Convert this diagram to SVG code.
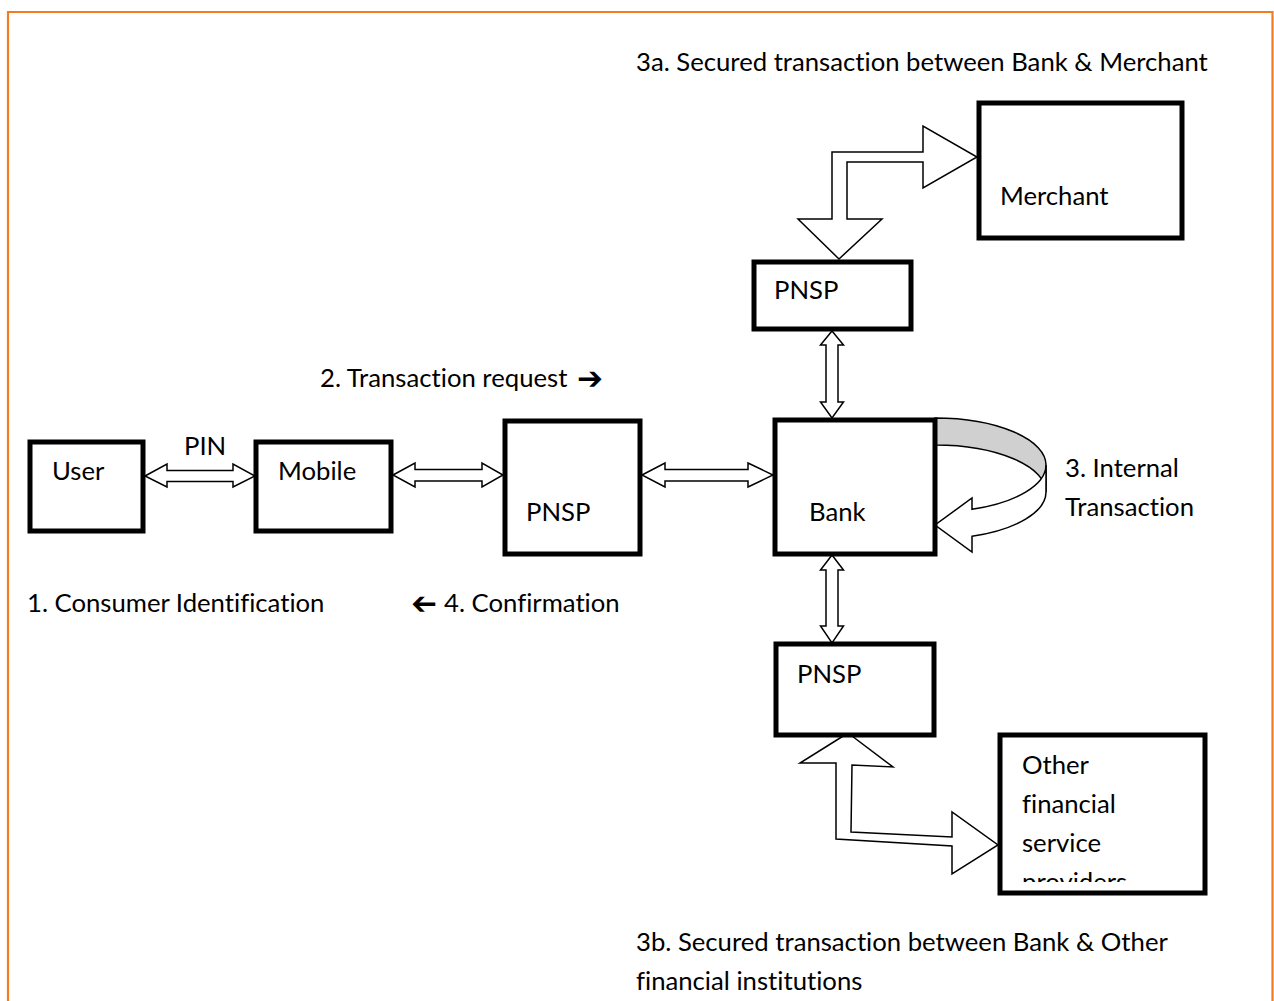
<svg xmlns="http://www.w3.org/2000/svg" width="1274" height="1001" viewBox="0 0 1274 1001">
  <style>
    .box { fill: #ffffff; stroke: #000000; stroke-width: 5; }
    .conn { fill: #ffffff; stroke: #000000; stroke-width: 1.5; stroke-linejoin: miter; }
    .lbl { font-family: Lato, "Open Sans", "Liberation Sans", sans-serif; font-size: 25.7px; fill: #000000; font-variant-ligatures: none; font-feature-settings: "liga" 0, "clig" 0; }
    .sym { font-family: "DejaVu Sans", sans-serif; font-size: 31px; font-weight: bold; fill: #000000; }
  </style>
  <defs>
    <clipPath id="clip-other">
      <rect x="1003" y="738" width="199" height="144"/>
    </clipPath>
  </defs>

  <rect width="1274" height="1001" fill="#ffffff"/>
  <!-- page frame -->
  <path d="M8,1001 V12 H1272.5 V1001" fill="none" stroke="#F47B20" stroke-width="2.2"/>

  <!-- connectors -->
  <g id="connectors">
    <!-- User <-> Mobile -->
    <polygon class="conn" points="145,476 167,464 167,470.5 233,470.5 233,464 255,476 233,487 233,481.5 167,481.5 167,487"/>
    <!-- Mobile <-> PNSP -->
    <polygon class="conn" points="393,475 415,463 415,469.5 482,469.5 482,463 503,475 482,487 482,481 415,481 415,487"/>
    <!-- PNSP <-> Bank -->
    <polygon class="conn" points="642,475 665,463 665,469.5 748,469.5 748,463 773,475 748,487 748,481 665,481 665,487"/>
    <!-- PNSP (top) <-> Bank -->
    <polygon class="conn" points="832,331 843.5,345 838,345 838,402 843.5,402 832,418 820.5,402 826,402 826,345 820.5,345"/>
    <!-- Bank <-> PNSP (bottom) -->
    <polygon class="conn" points="832,555 843.5,570 838,570 838,626 843.5,626 832,643 820.5,626 826,626 826,570 820.5,570"/>
    <!-- PNSP (top) <-> Merchant -->
    <polygon class="conn" points="839,259 882,219 847,219 847,162 923,162 923,188 977,157 923,126 923,152 832,152 832,219 798,219"/>
    <!-- PNSP (bottom) <-> Other financial service providers -->
    <polygon class="conn" points="848,733 893,767 852,765 851,832 952,837 952,812 998,845 952,874 952,846 836,839 836,763 800,763"/>
    <!-- Bank internal transaction loop: two equal ellipses offset by the band width;
         shaded back face first, then the front face with its head on top -->
    <path d="M935,418 A111,47 0 0 1 1046,465 L1046,492 A111,47 0 0 0 935,445 Z" fill="#d0d0d0" stroke="#000000" stroke-width="1.5"/>
    <path class="conn" d="M1046,465 A111,47 0 0 1 972,509.3 L972,498 L935,525 L972,552 L972,536.3 A111,47 0 0 0 1046,492 Z"/>
  </g>

  <!-- nodes -->
  <g id="node-user">
    <rect class="box" x="30" y="442" width="113" height="89"/>
    <text class="lbl" x="52" y="480">User</text>
  </g>
  <g id="node-mobile">
    <rect class="box" x="256" y="442" width="135" height="89"/>
    <text class="lbl" x="278" y="480">Mobile</text>
  </g>
  <g id="node-pnsp-mid">
    <rect class="box" x="505" y="421" width="135" height="133"/>
    <text class="lbl" x="526" y="521">PNSP</text>
  </g>
  <g id="node-bank">
    <rect class="box" x="775" y="420" width="160" height="134"/>
    <text class="lbl" x="809" y="521">Bank</text>
  </g>
  <g id="node-pnsp-top">
    <rect class="box" x="754" y="262" width="157" height="67"/>
    <text class="lbl" x="774" y="299">PNSP</text>
  </g>
  <g id="node-merchant">
    <rect class="box" x="979" y="103" width="203" height="135"/>
    <text class="lbl" x="1000" y="205">Merchant</text>
  </g>
  <g id="node-pnsp-bottom">
    <rect class="box" x="776" y="644" width="158" height="91"/>
    <text class="lbl" x="797" y="683">PNSP</text>
  </g>
  <g id="node-other">
    <rect class="box" x="1000" y="735" width="205" height="158"/>
    <g clip-path="url(#clip-other)">
      <text class="lbl" x="1022" y="774">Other</text>
      <text class="lbl" x="1022" y="813">financial</text>
      <text class="lbl" x="1022" y="852">service</text>
      <text class="lbl" x="1022" y="891">providers</text>
    </g>
  </g>

  <!-- free labels -->
  <g id="labels">
    <text class="lbl" x="636" y="71">3a. Secured transaction between Bank &amp; Merchant</text>
    <text class="lbl" x="320" y="387">2. Transaction request</text>
    <text class="sym" x="577" y="389">➔</text>
    <text class="lbl" x="184" y="455">PIN</text>
    <text class="lbl" x="1065" y="477">3. Internal</text>
    <text class="lbl" x="1065" y="516">Transaction</text>
    <text class="lbl" x="27" y="612">1. Consumer Identification</text>
    <text class="sym" transform="translate(437,614) scale(-1,1)">➔</text>
    <text class="lbl" x="444" y="612">4. Confirmation</text>
    <text class="lbl" x="636" y="951">3b. Secured transaction between Bank &amp; Other</text>
    <text class="lbl" x="636" y="990">financial institutions</text>
  </g>
</svg>
